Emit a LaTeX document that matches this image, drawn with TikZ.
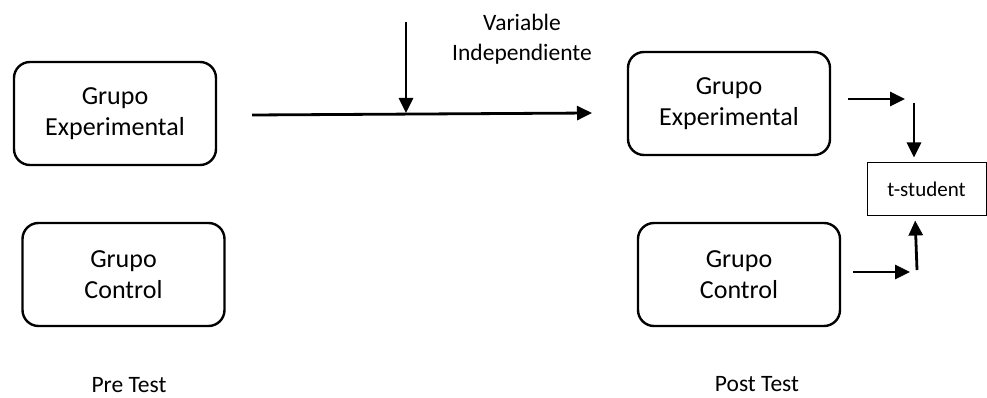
\documentclass[tikz,border=0pt]{standalone}
\usepackage{fontspec}
\setmainfont{Carlito}
\usetikzlibrary{arrows.meta}
\begin{document}
\begin{tikzpicture}[x=1pt,y=-1pt,
  grp/.style={draw,line width=2.4pt,rounded corners=16pt,minimum width=202pt,minimum height=103pt,
    align=center,inner sep=0pt,font=\fontsize{26}{31}\selectfont},
  tbox/.style={draw,line width=1pt,minimum width=119pt,minimum height=52pt,inner sep=0pt,
    font=\fontsize{21}{25}\selectfont},
  lbl/.style={align=center,inner sep=0pt,font=\fontsize{23.5}{30}\selectfont},
  arr/.style={line width=2.8pt,-{Triangle[length=15pt,width=14pt]}}]
\useasboundingbox (0,0) rectangle (987,398);
% boxes
\node[grp] (e1) at (115,113.5) {Grupo\\Experimental};
\node[grp] (c1) at (123.5,274.5) {Grupo\\Control};
\node[grp] (e2) at (729,103.5) {Grupo\\Experimental};
\node[grp] (c2) at (739,274.5) {Grupo\\Control};
\node[tbox] (ts) at (926.5,189) {t-student};
% labels
\node[lbl] (vi) at (522,39) {Variable\\Independiente};
\node[lbl,anchor=base] (pre) at (129,392) {Pre Test};
\node[lbl,anchor=base] (post) at (757,391) {Post Test};
% connectors
\coordinate (a1) at (252,115);
\coordinate (a2) at (592,113);
\coordinate (vtop) at (406,22);
\coordinate (vbot) at (406,113);
\draw[arr] (a1) -- (a2);
\draw[arr] (vtop) -- (vbot);
\coordinate (r1) at (848,99);
\coordinate (r2) at (905,99);
\coordinate (d1) at (914,103);
\draw[arr] (r1) -- (r2);
\draw[arr,shorten >=5pt] (d1) -- (d1 |- ts.north);
\coordinate (b1) at (853,272);
\coordinate (b2) at (910,272);
\coordinate (u1) at (917,270);
\draw[arr] (b1) -- (b2);
\draw[arr,shorten >=5pt] (u1) -- ([xshift=-2pt]u1 |- ts.south);
\end{tikzpicture}
\end{document}
